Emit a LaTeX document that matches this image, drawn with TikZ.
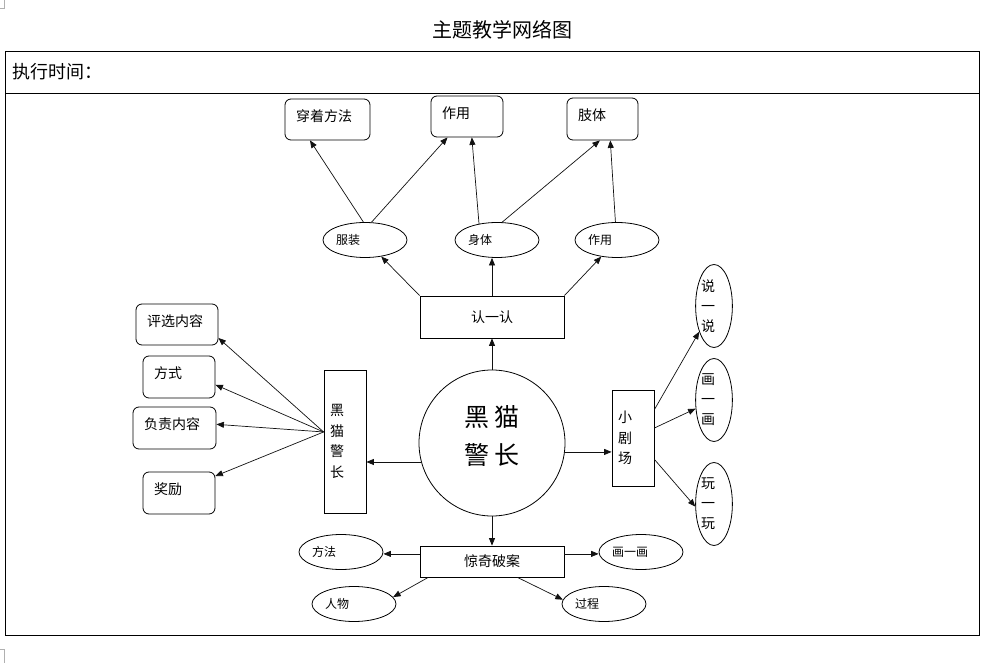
\documentclass[tikz,border=0pt]{standalone}
\usepackage{fontspec}
\setmainfont{Noto Sans CJK SC}
\usepackage{tikz}
\usetikzlibrary{arrows.meta,positioning,calc,shapes.geometric}
\definecolor{linegray}{HTML}{111111}
\definecolor{markgray}{HTML}{B0B0B0}

\tikzset{
    rbox/.style={draw, rounded corners=6pt, align=left, inner xsep=11pt, inner ysep=0pt,
        text depth=8pt, font=\fontsize{14}{17}\selectfont},
    plainbox/.style={draw, rectangle, inner sep=0pt, font=\fontsize{14}{17}\selectfont},
    oval/.style={draw, ellipse, inner sep=0pt, align=left, text width=58pt,
        minimum width=84pt, minimum height=35pt, font=\fontsize{12}{15}\selectfont},
    tallbox/.style={draw, rectangle, inner xsep=6pt, inner ysep=0pt, align=left, text width=30pt,
        minimum width=42pt, font=\fontsize{14}{20.5}\selectfont},
    tallov/.style={draw, ellipse, inner sep=0pt, align=left, text width=26pt,
        minimum width=36pt, minimum height=83pt, font=\fontsize{14}{20}\selectfont},
    arr/.style={-{Triangle[length=7.5pt,width=6pt]}, linegray, line width=0.7pt}
}

\begin{document}
\begin{tikzpicture}[x=1pt, y=-1pt, line width=0.8pt]
    \useasboundingbox (0,0) rectangle (989,663);

    % Corner marks
    \draw[markgray, line width=0.6pt] (4,0) -- (4,8) -- (0,8);
    \draw[markgray, line width=0.6pt] (0,649) -- (4,649) -- (4,663);

    % Title and frame
    \node[font=\fontsize{20}{24}\selectfont] (title) at (502,30) {主题教学网络图};
    \draw (5,51) rectangle (979,635);
    \draw (5,93) -- (979,93);
    \node[anchor=west, inner sep=0pt, font=\fontsize{18}{22}\selectfont] (time) at (12,72) {执行时间：};

    % Centre
    \node[draw, circle, minimum size=146pt, inner sep=0pt, align=center, text depth=16pt,
          font=\fontsize{25}{38}\selectfont] (mao) at (492,443) {黑\,猫\\警\,长};

    % Branch boxes
    \node[plainbox, minimum width=144pt, minimum height=42pt] (rz) at (492,317) {认一认};
    \node[plainbox, minimum width=144pt, minimum height=31pt] (pa) at (492,561.5) {惊奇破案};
    \node[tallbox, minimum height=143pt] (hmjz) at (345,441.5) {黑\\猫\\警\\长};
    \node[tallbox, minimum height=96pt] (jc) at (633,438) {小\\剧\\场};

    % Top row
    \node[oval] (fz) at (365,240) {服装};
    \node[oval] (st) at (497,240) {身体};
    \node[oval] (zy2) at (617,240) {作用};
    \node[rbox, text width=63pt, minimum height=41pt] (cz) at (327.5,119.5) {穿着方法};
    \node[rbox, text width=50pt, minimum height=41pt] (zy1) at (467,116.5) {作用};
    \node[rbox, text width=49pt, minimum height=42pt] (zt) at (602.5,119) {肢体};

    % Left column
    \node[rbox, text width=60pt, minimum height=41pt] (pn) at (177,324.5) {评选内容};
    \node[rbox, text width=50pt, minimum height=42pt] (fs) at (179,377) {方式};
    \node[rbox, text width=61pt, minimum height=42pt] (fznr) at (174.5,428) {负责内容};
    \node[rbox, text width=50pt, minimum height=42pt] (jl) at (179,493) {奖励};

    % Right column
    \node[tallov] (sy) at (714,306) {说\\一\\说};
    \node[tallov] (hh) at (714,400) {画\\一\\画};
    \node[tallov] (ww) at (714,504) {玩\\一\\玩};

    % Bottom
    \node[oval] (ff) at (341,552) {方法};
    \node[oval] (hh2) at (641,552) {画一画};
    \node[oval] (rw) at (354,604) {人物};
    \node[oval] (gc) at (604,604) {过程};

    % Centre connectors
    \draw[arr] (mao.north) -- (rz.south);
    \draw[arr] (mao.south) -- (pa.north);
    \draw[arr] (mao.195) -- (mao.195 -| hmjz.east);
    \draw[arr] (mao.-7) -- (mao.-7 -| jc.west);

    % 认一认
    \draw[arr] (rz.north west) -- (fz);
    \draw[arr] (rz.north) -- (rz.north |- st.south);
    \draw[arr] (rz.north east) -- (zy2);
    \draw[arr] (fz.95) -- (cz.230);
    \draw[arr] (fz.70) -- (zy1.227);
    \draw[arr] (st.138) -- (zy1.283);
    \draw[arr] (st.74) -- (zt.263);
    \draw[arr] (zy2.95) -- (zt.290);

    % 黑猫警长
    \draw[arr] (hmjz.156) -- (pn.342);
    \draw[arr] (hmjz.156) -- (fs.-12);
    \draw[arr] (hmjz.156) -- (fznr.5);
    \draw[arr] (hmjz.156) -- (jl.25);

    % 小剧场
    \draw[arr] (jc.53) -- (sy);
    \draw[arr] (jc.25) -- (hh);
    \draw[arr] (jc.-45) -- (ww.188);

    % 惊奇破案
    \draw[arr] (pa.174) -- (pa.174 -| ff.east);
    \draw[arr] (pa.6) -- (pa.6 -| hh2.west);
    \draw[arr] (pa.194) -- (rw.10);
    \draw[arr] (pa.-32) -- (gc.174);
\end{tikzpicture}
\end{document}
